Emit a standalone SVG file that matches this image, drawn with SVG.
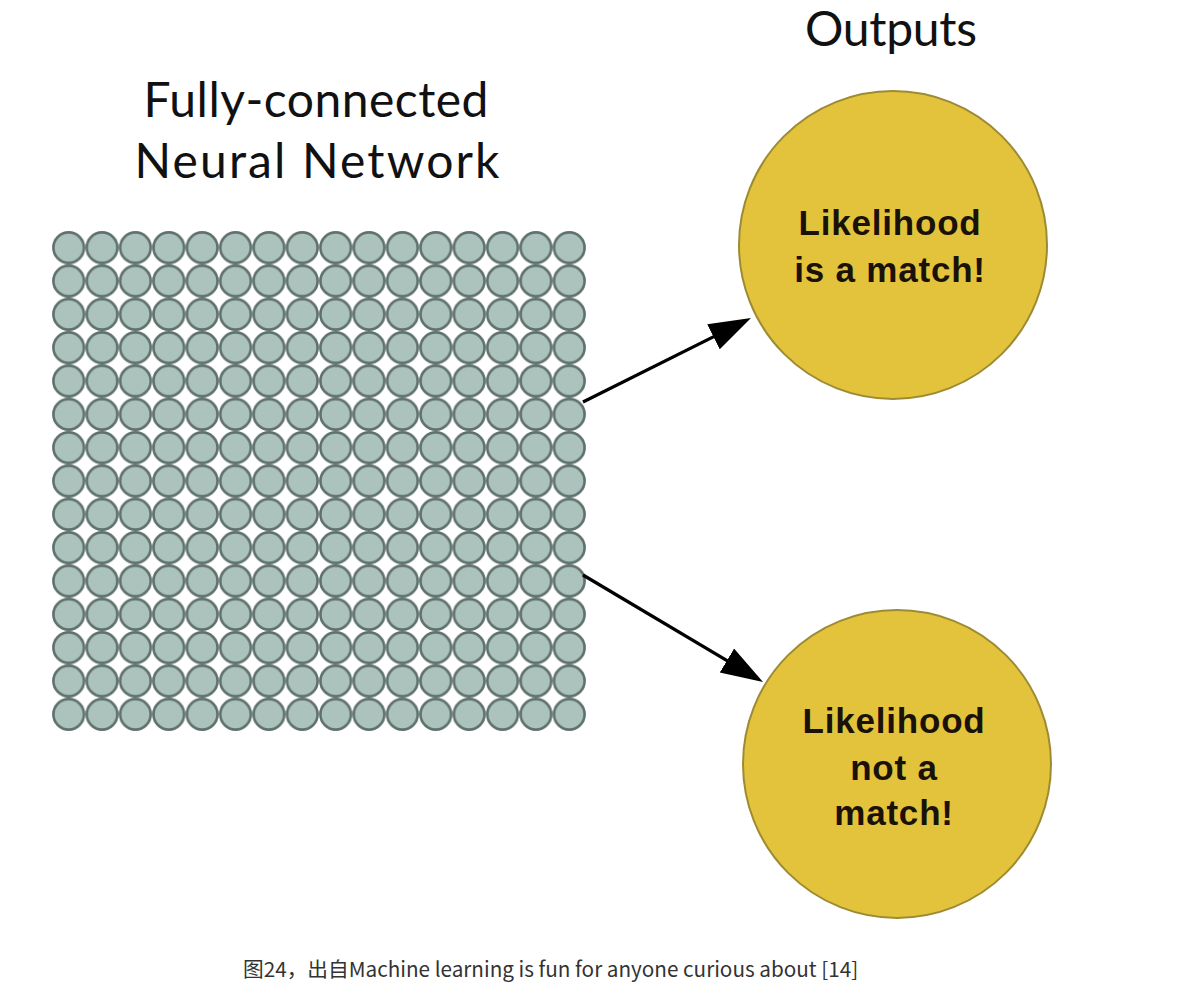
<svg xmlns="http://www.w3.org/2000/svg" xmlns:xlink="http://www.w3.org/1999/xlink" width="1180" height="993" viewBox="0 0 1180 993">
<style>
.title{font-family:"Lato","Open Sans","DejaVu Sans",sans-serif;font-size:48px;fill:#111;text-anchor:middle}
.lbl{font-family:"Liberation Sans","Arial",sans-serif;font-weight:bold;font-size:35px;fill:#1a1208;text-anchor:middle;letter-spacing:0.8px}
.out{fill:#e3c33c;stroke:#9d8b34;stroke-width:2}
.cap{font-family:"Noto Sans CJK SC","Noto Sans",sans-serif;font-size:20.7px;fill:#333}
.arrow{stroke:#000;stroke-width:3.2;fill:none}
</style>
<defs>
<pattern id="neurons" patternUnits="userSpaceOnUse" x="52" y="231" width="33.375" height="33.333">
<circle cx="16.69" cy="16.67" r="15.3" fill="#abc2bd" stroke="#5f716d" stroke-width="2.6"/>
</pattern>
<marker id="ah" markerUnits="userSpaceOnUse" markerWidth="44" markerHeight="30" refX="30" refY="14" orient="auto">
<path d="M0,0 L42,14 L0,28 z" fill="#000"/>
</marker>
</defs>
<rect width="1180" height="993" fill="#fff"/>
<g id="network">
<text class="title" x="316" y="117" textLength="345" lengthAdjust="spacing">Fully-connected</text>
<text class="title" x="317" y="178" textLength="365" lengthAdjust="spacing">Neural Network</text>
<rect x="52" y="231" width="534" height="500" fill="url(#neurons)"/>
</g>
<g id="outputs-title">
<text class="title" x="891" y="46" textLength="172" lengthAdjust="spacing">Outputs</text>
</g>
<g id="match">
<circle class="out" cx="893" cy="245" r="154"/>
<text class="lbl" x="890" y="235">Likelihood</text>
<text class="lbl" x="890" y="282">is a match!</text>
</g>
<g id="nomatch">
<circle class="out" cx="897" cy="764" r="154"/>
<text class="lbl" x="894" y="733">Likelihood</text>
<text class="lbl" x="894" y="780">not a</text>
<text class="lbl" x="894" y="825">match!</text>
</g>
<g id="connectors">
<line class="arrow" x1="583" y1="402" x2="740.3" y2="323.4" marker-end="url(#ah)"/>
<line class="arrow" x1="583" y1="575" x2="752.7" y2="675.9" marker-end="url(#ah)"/>
</g>
<text class="cap" x="243" y="977">图24，出自Machine learning is fun for anyone curious about [14]</text>
</svg>
